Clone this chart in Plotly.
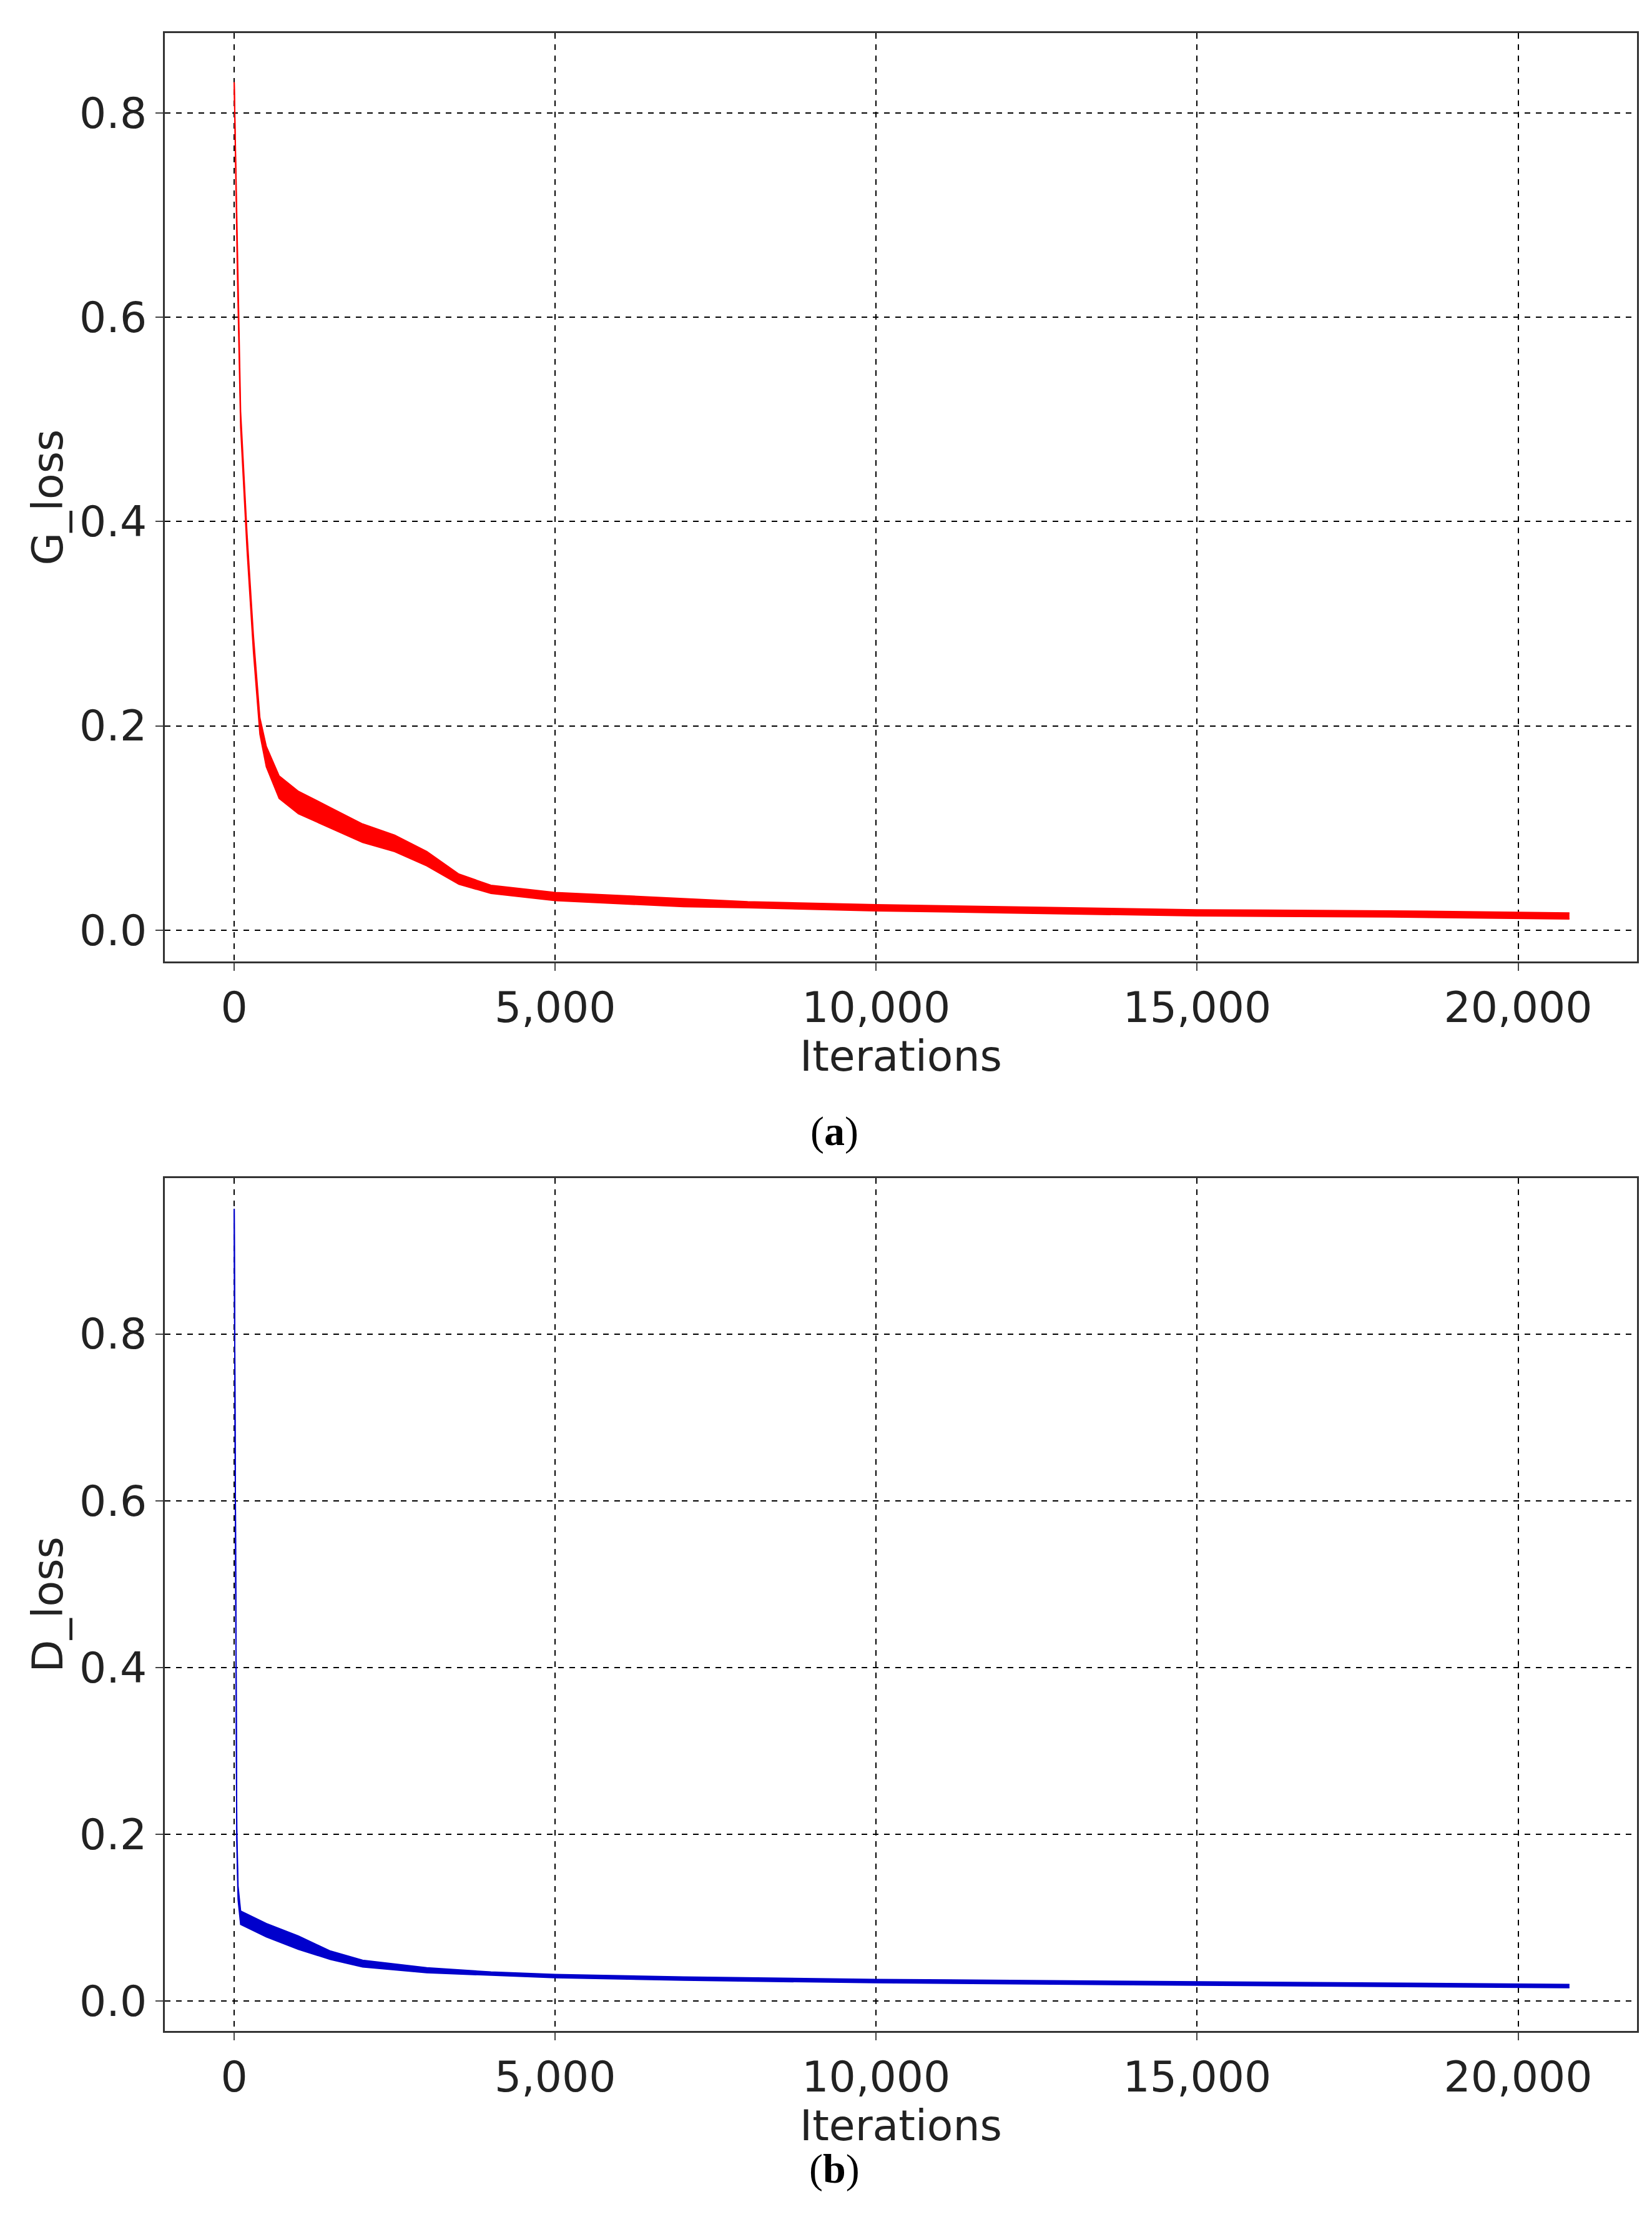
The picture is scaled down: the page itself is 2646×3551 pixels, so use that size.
import plotly.graph_objects as go

# Generator loss (estimated centre and half-width of noisy band)
g_iter = [0, 50, 100, 200, 300, 400, 500, 700, 1000, 1500, 2000, 2500, 3000, 3500, 4000, 5000, 6000, 7000, 8000, 10000, 12000, 15000, 18000, 20800]
g_loss = [0.83, 0.65, 0.50, 0.38, 0.28, 0.20, 0.17, 0.14, 0.125, 0.11, 0.095, 0.085, 0.07, 0.05, 0.04, 0.033, 0.03, 0.027, 0.025, 0.022, 0.02, 0.017, 0.016, 0.014]
g_half = [0.0, 0.008, 0.008, 0.008, 0.008, 0.008, 0.01, 0.011, 0.011, 0.01, 0.009, 0.008, 0.007, 0.005, 0.004, 0.004, 0.004, 0.004, 0.003, 0.003, 0.003, 0.003, 0.003, 0.003]

# Discriminator loss
d_iter = [0, 20, 40, 60, 100, 500, 1000, 1500, 2000, 3000, 4000, 5000, 7000, 10000, 15000, 20800]
d_loss = [0.95, 0.5, 0.2, 0.13, 0.1, 0.085, 0.07, 0.055, 0.045, 0.037, 0.033, 0.03, 0.027, 0.024, 0.021, 0.018]
d_half = [0.0, 0.008, 0.008, 0.008, 0.008, 0.008, 0.008, 0.005, 0.004, 0.003, 0.002, 0.002, 0.002, 0.002, 0.002, 0.002]

x_ticks = [0, 5000, 10000, 15000, 20000]
x_labels = ["0", "5,000", "10,000", "15,000", "20,000"]
y_ticks = [0.0, 0.2, 0.4, 0.6, 0.8]
y_labels = ["0.0", "0.2", "0.4", "0.6", "0.8"]

fig = go.Figure()

def band(x, c, h, color, xa, ya):
    up = [a + b for a, b in zip(c, h)]
    lo = [a - b for a, b in zip(c, h)]
    fig.add_trace(go.Scatter(x=x, y=lo, mode="lines", line=dict(color=color, width=2),
                             xaxis=xa, yaxis=ya, showlegend=False))
    fig.add_trace(go.Scatter(x=x, y=up, mode="lines", line=dict(color=color, width=2),
                             fill="tonexty", fillcolor=color, xaxis=xa, yaxis=ya, showlegend=False))

band(g_iter, g_loss, g_half, "#ff0000", "x", "y")
band(d_iter, d_loss, d_half, "#0000cc", "x2", "y2")

font = dict(family="DejaVu Sans", size=68, color="#222")
common_x = dict(range=[-1082, 21855], tickvals=x_ticks, ticktext=x_labels, showgrid=True,
                gridcolor="black", griddash="dash", gridwidth=2, zeroline=False,
                showline=True, linecolor="#333", linewidth=3, mirror=True,
                ticks="outside", ticklen=12, tickwidth=2, tickfont=font,
                title=dict(text="Iterations", font=font, standoff=12))
common_y = dict(tickvals=y_ticks, ticktext=y_labels, showgrid=True,
                gridcolor="black", griddash="dash", gridwidth=2, zeroline=False,
                showline=True, linecolor="#333", linewidth=3, mirror=True,
                ticks="outside", ticklen=12, tickwidth=2, tickfont=font)

fig.update_layout(
    width=2646, height=3551, margin=dict(l=0, r=0, t=0, b=0),
    plot_bgcolor="white", paper_bgcolor="white",
    xaxis=dict(domain=[0.0967, 0.988], anchor="y", **common_x),
    yaxis=dict(domain=[0.5686, 0.9873], anchor="x", range=[-0.0305, 0.878],
               title=dict(text="G_loss", font=font, standoff=5), **common_y),
    xaxis2=dict(domain=[0.0967, 0.988], anchor="y2", **common_x),
    yaxis2=dict(domain=[0.0862, 0.4709], anchor="x2", range=[-0.0357, 0.987],
                title=dict(text="D_loss", font=font, standoff=5), **common_y),
    annotations=[
        dict(text="(<b>a</b>)", x=0.502, y=0.492, xref="paper", yref="paper", showarrow=False,
             font=dict(family="Liberation Serif", size=66, color="black")),
        dict(text="(<b>b</b>)", x=0.502, y=0.013, xref="paper", yref="paper", showarrow=False,
             font=dict(family="Liberation Serif", size=66, color="black")),
    ],
)

fig.write_html("out.html")
